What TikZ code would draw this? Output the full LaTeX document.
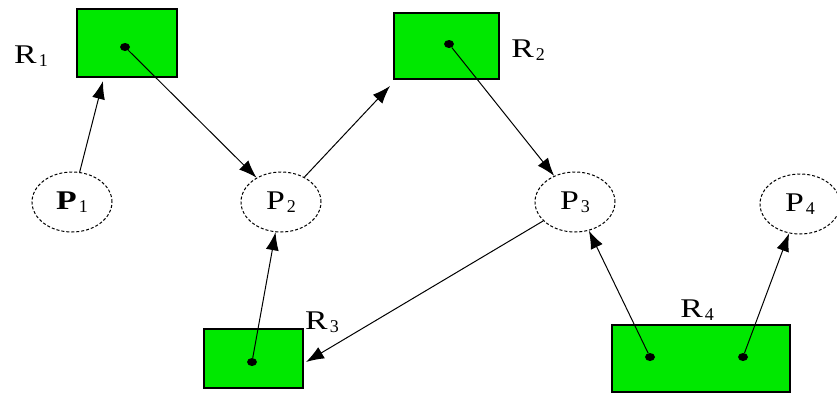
\documentclass[tikz,border=0pt]{standalone}
\usepackage{fontspec}
\setmainfont{Liberation Serif}
\usetikzlibrary{arrows.meta,shapes.geometric}
\definecolor{resgreen}{RGB}{0,232,0}
\newcommand\lbl[2]{\scalebox{1.25}[1]{\fontsize{27}{29}\selectfont #1}\hspace{2pt}\raisebox{-3pt}{\fontsize{18}{20}\selectfont #2}}
\begin{document}
\begin{tikzpicture}[x=1pt,y=-1pt,
  res/.style={draw=black, line width=1.5pt, fill=resgreen, inner sep=0pt},
  proc/.style={ellipse, draw=black, line width=1pt, densely dashed, minimum width=80pt, minimum height=60pt, inner sep=0pt},
  dotn/.style={ellipse, fill=black, inner sep=0pt, minimum width=10pt, minimum height=8pt},
  lab/.style={inner sep=0pt},
  arr/.style={-{Latex[length=18pt,width=13pt]}, line width=1pt}]
\useasboundingbox (0,0) rectangle (837,399);
% resources
\node[res, minimum width=100pt, minimum height=68pt] (R1) at (127,43) {};
\node[res, minimum width=105pt, minimum height=66pt] (R2) at (446.5,46) {};
\node[res, minimum width=99pt, minimum height=59pt] (R3) at (253.5,358.5) {};
\node[res, minimum width=178pt, minimum height=67pt] (R4) at (701,358.5) {};
% dots
\node[dotn] (d1) at (125,47) {};
\node[dotn] (d2) at (449,44) {};
\node[dotn] (d3) at (252,362) {};
\node[dotn] (d4a) at (650,357) {};
\node[dotn] (d4b) at (743,357) {};
% labels
\node[lab] (l1) at (31,56) {\lbl{R}{1}};
\node[lab] (l2) at (528,50) {\lbl{R}{2}};
\node[lab] (l3) at (322,322) {\lbl{R}{3}};
\node[lab] (l4) at (697,310) {\lbl{R}{4}};
% processes
\node[proc] (P1) at (72,202) {\lbl{\textbf{P}}{1}};
\node[proc] (P2) at (281,202) {\lbl{P}{2}};
\node[proc] (P3) at (575,202) {\lbl{P}{3}};
\node[proc] (P4) at (800,204) {\lbl{P}{4}};
% arrow end points on box borders
\coordinate (c1) at (103,81);
\coordinate (c2) at (390,86);
\coordinate (c3) at (306,362);
% connectors
\draw[arr] (P1) -- (c1);
\draw[arr] (d1) -- (P2);
\draw[arr] (P2) -- (c2);
\draw[arr] (d2) -- (P3);
\draw[arr] (d3) -- (P2);
\draw[arr] (P3) -- (c3);
\draw[arr] (d4a) -- (P3);
\draw[arr] (d4b) -- (P4);
\end{tikzpicture}
\end{document}
